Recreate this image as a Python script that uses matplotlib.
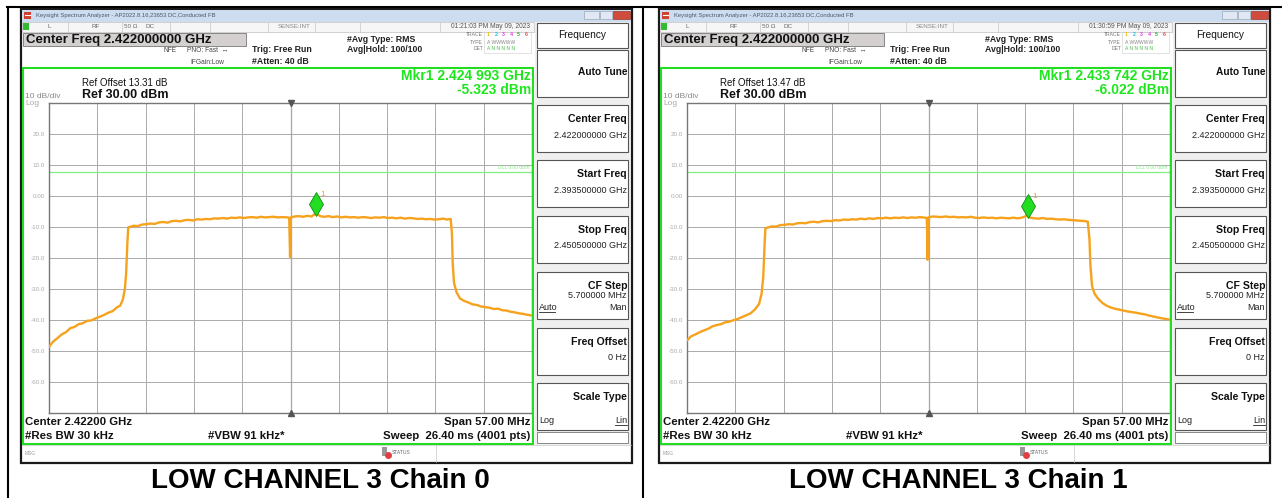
import matplotlib
matplotlib.use("Agg")
import matplotlib.pyplot as plt
from matplotlib.patches import Rectangle
from matplotlib.lines import Line2D
from matplotlib.transforms import ScaledTranslation

# ---------------- data ----------------
start_freq_mhz = 2393.5
stop_freq_mhz = 2450.5
center_freq_mhz = 2422.0
ref_level_dbm = 30.0
bottom_level_dbm = -70.0
display_line_dbm = 8.0

y_grid_levels = [20, 10, 0, -10, -20, -30, -40, -50, -60]
y_tick_labels = ["20.0", "10.0", "0.00", "-10.0", "-20.0", "-30.0", "-40.0", "-50.0", "-60.0"]

chain0_freq_mhz = [
    2393.5, 2394.0, 2394.5, 2395.0, 2395.5, 2396.0, 2396.5, 2397.0, 2397.5, 2398.0,
    2398.5, 2399.0, 2399.5, 2400.0, 2400.5, 2401.0, 2401.5, 2401.9, 2402.2, 2402.45,
    2402.6, 2402.75, 2402.85, 2403.0, 2403.5, 2404.0, 2404.5, 2405.0, 2405.5, 2406.0,
    2406.5, 2407.0, 2407.5, 2408.0, 2408.5, 2409.0, 2409.5, 2410.0, 2410.5, 2411.0,
    2411.5, 2412.0, 2412.5, 2413.0, 2413.5, 2414.0, 2414.5, 2415.0, 2415.5, 2416.0,
    2416.5, 2417.0, 2417.5, 2418.0, 2418.5, 2419.0, 2419.5, 2420.0, 2420.5, 2421.0,
    2421.6, 2421.85, 2421.95, 2422.05, 2422.5, 2423.0, 2423.5, 2424.0, 2424.5, 2424.99,
    2425.5, 2426.0, 2426.5, 2427.0, 2427.5, 2428.0, 2428.5, 2429.0, 2429.5, 2430.0,
    2430.5, 2431.0, 2431.5, 2432.0, 2432.5, 2433.0, 2433.5, 2434.0, 2434.5, 2435.0,
    2435.5, 2436.0, 2436.5, 2437.0, 2437.5, 2438.0, 2438.5, 2439.0, 2439.5, 2440.0,
    2440.5, 2440.9, 2441.05, 2441.15, 2441.3, 2441.6, 2442.0, 2442.5, 2443.0, 2443.5,
    2444.0, 2444.5, 2445.0, 2445.5, 2446.0, 2446.5, 2447.0, 2447.5, 2448.0, 2448.5,
    2449.0, 2449.5, 2450.0, 2450.5]
chain0_level_dbm = [
    -48.6, -46.9, -45.8, -44.6, -43.9, -42.6, -42.2, -41.3, -41.0, -40.2,
    -40.1, -39.4, -38.9, -38.3, -37.6, -37.1, -35.9, -35.3, -33.5, -30.0,
    -25.0, -15.0, -10.0, -9.9, -9.5, -9.6, -9.1, -9.0, -8.8, -8.9,
    -8.4, -8.3, -8.5, -8.0, -7.9, -8.1, -7.7, -7.6, -7.8, -7.4,
    -7.5, -7.3, -7.4, -7.1, -7.2, -7.0, -7.2, -6.9, -7.0, -6.8,
    -7.0, -6.8, -6.7, -6.9, -6.6, -6.8, -6.7, -6.6, -6.8, -6.7,
    -6.8, -6.9, -19.6, -6.8, -6.5, -6.4, -6.6, -6.3, -6.5, -5.4,
    -6.4, -6.6, -6.4, -6.7, -6.5, -6.8, -6.6, -6.8, -6.7, -6.9,
    -6.7, -6.8, -7.0, -6.8, -6.9, -6.7, -7.0, -6.9, -7.1, -6.9,
    -7.2, -7.0, -7.1, -7.3, -7.2, -7.4, -7.3, -7.5, -7.4, -7.2,
    -7.5, -7.3, -12.0, -22.0, -28.0, -31.0, -33.0, -33.8, -34.3, -34.9,
    -35.1, -35.6, -35.8, -36.0, -36.4, -36.3, -36.8, -36.9, -37.3, -37.5,
    -37.8, -38.0, -38.3, -38.5]

chain1_freq_mhz = [
    2393.5, 2394.0, 2394.5, 2395.0, 2395.5, 2396.0, 2396.5, 2397.0, 2397.5, 2398.0,
    2398.5, 2399.0, 2399.5, 2400.0, 2400.5, 2401.0, 2401.5, 2402.0, 2402.3, 2402.5,
    2402.65, 2402.75, 2403.0, 2403.5, 2404.0, 2404.5, 2405.0, 2405.5, 2406.0, 2406.5,
    2407.0, 2407.5, 2408.0, 2408.5, 2409.0, 2409.5, 2410.0, 2410.5, 2411.0, 2411.5,
    2412.0, 2412.5, 2413.0, 2413.5, 2414.0, 2414.5, 2415.0, 2415.5, 2416.0, 2416.5,
    2417.0, 2417.5, 2418.0, 2418.5, 2419.0, 2419.5, 2420.0, 2420.5, 2421.0, 2421.6,
    2421.8, 2421.9, 2422.0, 2422.5, 2423.0, 2423.5, 2424.0, 2424.5, 2425.0, 2425.5,
    2426.0, 2426.5, 2427.0, 2427.5, 2428.0, 2428.5, 2429.0, 2429.5, 2430.0, 2430.5,
    2431.0, 2431.5, 2432.0, 2432.5, 2433.0, 2433.74, 2434.0, 2434.5, 2435.0, 2435.5,
    2436.0, 2436.5, 2437.0, 2437.5, 2438.0, 2438.5, 2439.0, 2439.5, 2440.0, 2440.5,
    2440.8, 2441.0, 2441.1, 2441.3, 2441.6, 2442.0, 2442.5, 2443.0, 2443.5, 2444.0,
    2444.5, 2445.0, 2445.5, 2446.0, 2446.5, 2447.0, 2447.5, 2448.0, 2448.5, 2449.0,
    2449.5, 2450.0, 2450.5]
chain1_level_dbm = [
    -46.5, -45.2, -44.6, -43.9, -43.3, -42.8, -42.0, -41.6, -41.3, -40.7,
    -40.5, -40.0, -39.6, -39.0, -38.4, -37.8, -36.6, -34.8, -31.5, -26.0,
    -16.0, -10.3, -10.1, -9.7, -9.8, -9.3, -9.2, -9.0, -9.1, -8.7,
    -8.6, -8.7, -8.3, -8.2, -8.4, -8.0, -7.9, -8.0, -7.7, -7.8,
    -7.5, -7.6, -7.4, -7.5, -7.2, -7.4, -7.1, -7.3, -7.0, -7.1,
    -6.9, -7.1, -6.9, -7.0, -6.8, -7.0, -6.8, -6.9, -6.7, -6.9,
    -7.0, -20.5, -6.8, -6.5, -6.6, -6.7, -6.5, -6.7, -6.6, -6.8,
    -6.7, -6.8, -6.6, -6.9, -7.0, -6.8, -7.0, -6.9, -7.1, -6.9,
    -7.0, -7.1, -6.9, -7.1, -6.9, -6.1, -6.9, -7.1, -7.2, -7.0,
    -7.3, -7.2, -7.4, -7.5, -7.4, -7.6, -7.7, -7.8, -7.9, -8.0,
    -8.2, -14.0, -22.0, -29.0, -31.5, -33.0, -34.4, -35.3, -35.9, -36.3,
    -36.6, -36.9, -37.2, -37.4, -37.6, -37.9, -38.1, -38.5, -38.8, -39.1,
    -39.4, -39.6, -39.9]

marker_freq_mhz = [2424.993, 2433.742]
marker_level_dbm = [-5.323, -6.022]
marker_labels = ["Mkr1 2.424 993 GHz", "Mkr1 2.433 742 GHz"]
marker_value_labels = ["-5.323 dBm", "-6.022 dBm"]
ref_offsets = ["Ref Offset 13.31 dB", "Ref Offset 13.47 dB"]
timestamps = ["01:21:03 PM May 09, 2023", "01:30:59 PM May 09, 2023"]
captions = ["LOW CHANNEL 3 Chain 0", "LOW CHANNEL 3 Chain 1"]

menu_title = "Frequency"
menu_items = [("Center Freq", "2.422000000 GHz"), ("Start Freq", "2.393500000 GHz"),
              ("Stop Freq", "2.450500000 GHz"), ("CF Step", "5.700000 MHz"),
              ("Freq Offset", "0 Hz"), ("Scale Type", "")]

# ---------------- drawing helpers (pixel layout) ----------------
W, H = 1282, 498
FONT = ["Liberation Sans", "DejaVu Sans"]
fig = plt.figure(figsize=(W / 100, H / 100), dpi=100)
fig.patch.set_facecolor("white")


def fx(x):
    return x / W


def fy(y):
    return 1 - y / H


def rect(x0, y0, x1, y1, fc="none", ec="none", lw=0.0, z=0.5):
    fig.add_artist(Rectangle((fx(x0), fy(y1)), (x1 - x0) / W, (y1 - y0) / H,
                             transform=fig.transFigure, facecolor=fc, edgecolor=ec,
                             linewidth=lw, zorder=z))


def line(x0, y0, x1, y1, color="black", lw=0.72, z=1):
    fig.add_artist(Line2D([fx(x0), fx(x1)], [fy(y0), fy(y1)], transform=fig.transFigure,
                          color=color, linewidth=lw, zorder=z))


def txt(x, y, s, size, ha="left", va="center", weight="normal", color="black", z=3):
    fig.text(fx(x), fy(y), s, fontsize=size, ha=ha, va=va, fontweight=weight,
             color=color, family=FONT, zorder=z)


def panel(ox, idx, freqs, levels):
    X = lambda x: x + ox
    # screenshot frame
    rect(X(21), 9, X(632), 463, fc="white", ec="#1a1a1a", lw=1.6, z=0.2)
    # title bar
    rect(X(22), 10, X(631), 22, fc="#cddcee", z=0.3)
    rect(X(24), 12, X(31), 19, fc="#d04030", z=0.4)
    line(X(25), 15.5, X(30), 15.5, color="white", lw=0.8, z=0.5)
    txt(X(36), 16, "Keysight Spectrum Analyzer - AP2022.8.16,23653 DC,Conducted FB", 4.2, color="#4a5a6a")
    rect(X(584), 11, X(599), 19, fc="#dfe8f3", ec="#9aaabb", lw=0.5, z=0.4)
    rect(X(600), 11, X(612), 19, fc="#dfe8f3", ec="#9aaabb", lw=0.5, z=0.4)
    rect(X(613), 11, X(630), 19, fc="#cf4b3b", ec="#9a3a2a", lw=0.5, z=0.4)
    # status row
    rect(X(22), 22, X(534), 32, fc="#f6f6f6", ec="#c0c0c0", lw=0.5, z=0.3)
    rect(X(23), 23, X(29), 30, fc="#33bb33", z=0.4)
    for sx in [68, 122, 170, 210, 268, 315, 360, 440]:
        line(X(sx), 22, X(sx), 32, color="#c8c8c8", lw=0.5)
    txt(X(48), 27, "L", 4.5, color="#666")
    txt(X(92), 27, "RF", 4.5, color="#666")
    txt(X(124), 27, "50 Ω", 4.5, color="#666")
    txt(X(145), 27, "DC", 4.5, color="#666")
    txt(X(278), 27, "SENSE:INT", 4.5, color="#888")
    txt(X(530), 27, timestamps[idx], 4.8, ha="right", color="#555")
    # centre freq box
    rect(X(23), 33, X(246), 46, fc="#d5d0d0", ec="#777", lw=0.6, z=0.4)
    txt(X(26), 40.5, "Center Freq 2.422000000 GHz", 9.5, weight="bold", color="#111")
    txt(X(163), 51, "NFE", 4.8, color="#444")
    txt(X(187), 51, "PNO: Fast  ↔", 4.8, color="#444")
    txt(X(190), 62, "IFGain:Low", 4.8, color="#444")
    txt(X(252), 50, "Trig: Free Run", 6.3, weight="bold", color="#222")
    txt(X(252), 61, "#Atten: 40 dB", 6.3, weight="bold", color="#222")
    txt(X(347), 40, "#Avg Type: RMS", 6.3, weight="bold", color="#222")
    txt(X(347), 50, "Avg|Hold: 100/100", 6.3, weight="bold", color="#222")
    # trace info block
    txt(X(483), 35, "TRACE", 3.6, ha="right", color="#777")
    txt(X(483), 42, "TYPE", 3.6, ha="right", color="#777")
    txt(X(483), 49, "DET", 3.6, ha="right", color="#777")
    rect(X(484), 32, X(531), 53, ec="#cccccc", lw=0.4, z=0.4)
    for k, c in enumerate(["#e8c000", "#20c0e0", "#e040e0", "#e040e0", "#30b030", "#e05050"]):
        txt(X(487 + k * 7.5), 35, str(k + 1), 3.8, color=c, weight="bold")
    txt(X(487), 42, "A WWWWW", 3.6, color="#888")
    txt(X(487), 49, "A N N N N N", 3.6, color="#55bb55")
    # menu column
    rect(X(535), 22, X(630), 445, fc="#efefef", z=0.3)
    rect(X(537), 23, X(628), 48, fc="white", ec="#555", lw=0.8, z=0.4)
    txt(X(582.5), 35.5, menu_title, 7.3, ha="center", color="#111")
    rect(X(537), 50, X(628), 97, fc="white", ec="#555", lw=0.8, z=0.4)
    txt(X(627), 72, "Auto Tune", 7.3, ha="right", weight="bold", color="#111")
    tops = [105, 160, 216, 272, 328, 383]
    for (ttl, val), t in zip(menu_items, tops):
        rect(X(537), t, X(628), t + 47, fc="white", ec="#555", lw=0.8, z=0.4)
        txt(X(627), t + 14, ttl, 7.6, ha="right", weight="bold", color="#111")
        if ttl == "CF Step":
            txt(X(627), t + 24, val, 6.5, ha="right", color="#222")
            txt(X(539), t + 35, "Auto", 6.5, color="#222")
            line(X(539), t + 40, X(555), t + 40, color="#222", lw=0.6, z=3)
            txt(X(627), t + 35, "Man", 6.5, ha="right", color="#222")
        elif ttl == "Scale Type":
            txt(X(539), t + 37, "Log", 6.5, color="#222")
            txt(X(627), t + 37, "Lin", 6.5, ha="right", color="#222")
            line(X(615), t + 42, X(627), t + 42, color="#222", lw=0.6, z=3)
        else:
            txt(X(627), t + 30, val, 6.5, ha="right", color="#222")
    rect(X(537), 432, X(628), 443, fc="white", ec="#777", lw=0.6, z=0.4)
    # message row
    line(X(22), 445, X(631), 445, color="#c8c8c8", lw=0.5)
    line(X(436), 445, X(436), 462, color="#c8c8c8", lw=0.5)
    txt(X(25), 453, "MSG", 3.5, color="#999")
    rect(X(382), 447, X(387), 456, fc="#999", z=0.4)
    fig.add_artist(Line2D([fx(X(388))], [fy(455)], marker="o", markersize=4,
                          color="#e04040", transform=fig.transFigure, zorder=2))
    txt(X(392), 452, "STATUS", 3.6, color="#666")
    # green measurement frame
    rect(X(23), 68, X(533), 444, ec="#22dd22", lw=1.5, z=2.5)
    txt(X(82), 83.5, ref_offsets[idx], 7, color="#111")
    txt(X(82), 95, "Ref 30.00 dBm", 9, weight="bold", color="#111")
    txt(X(25), 96, "10 dB/div", 6, color="#888")
    txt(X(25), 103.5, "Log", 6, color="#aaa")
    txt(X(531), 76.5, marker_labels[idx], 10, ha="right", weight="bold", color="#1ee61e")
    txt(X(531), 90, marker_value_labels[idx], 10, ha="right", weight="bold", color="#1ee61e")
    txt(X(25), 422, "Center 2.42200 GHz", 8.2, weight="bold", color="#111")
    txt(X(530), 422, "Span 57.00 MHz", 8.2, ha="right", weight="bold", color="#111")
    txt(X(25), 436, "#Res BW 30 kHz", 8.2, weight="bold", color="#111")
    txt(X(208), 436, "#VBW 91 kHz*", 8.2, weight="bold", color="#111")
    txt(X(530), 436, "Sweep  26.40 ms (4001 pts)", 8.2, ha="right", weight="bold", color="#111")

    # ---- trace axes ----
    px0, py0, px1, py1 = X(49), 103.5, X(532), 413
    ax = fig.add_axes([fx(px0), fy(py1), (px1 - px0) / W, (py1 - py0) / H], zorder=2)
    ax.set_facecolor("white")
    ax.set_xlim(start_freq_mhz, stop_freq_mhz)
    ax.set_ylim(bottom_level_dbm, ref_level_dbm)
    div = (stop_freq_mhz - start_freq_mhz) / 10
    ax.set_xticks([start_freq_mhz + k * div for k in range(1, 10)])
    ax.set_xticklabels([])
    ax.set_yticks(y_grid_levels)
    ax.set_yticklabels(y_tick_labels)
    ax.tick_params(axis="both", length=0)
    ax.tick_params(axis="y", labelsize=4.5, labelcolor="#aaaaaa", pad=3)
    for lab in ax.get_yticklabels():
        lab.set_family(FONT)
    ax.grid(True, color="#aaaaaa", linewidth=0.7)
    ax.axvline(center_freq_mhz, color="#8a8a8a", linewidth=0.9, zorder=1)
    for sp in ax.spines.values():
        sp.set_color("#777777")
        sp.set_linewidth(1.0)
    ax.axhline(display_line_dbm, color="#7ff07f", linewidth=0.9, zorder=2)
    ax.text(stop_freq_mhz - 0.3, display_line_dbm + 0.6, "DL1 8.00 dBm", fontsize=3.5,
            color="#8fe88f", ha="right", va="bottom", family=FONT)
    ax.plot(freqs, levels, color="#f6a21c", linewidth=1.7, zorder=3)
    ax.plot([center_freq_mhz], [ref_level_dbm], marker="v", markersize=4, color="#555",
            clip_on=False, zorder=4)
    ax.plot([center_freq_mhz], [bottom_level_dbm], marker="^", markersize=4, color="#555",
            clip_on=False, zorder=4)
    up = ax.transData + ScaledTranslation(0, 0.085, fig.dpi_scale_trans)
    ax.plot([marker_freq_mhz[idx]], [marker_level_dbm[idx]], marker="d", markersize=12,
            markerfacecolor="#22dd22", markeredgecolor="#118811", markeredgewidth=0.6,
            transform=up, zorder=5, linestyle="none")
    up2 = ax.transData + ScaledTranslation(0.07, 0.18, fig.dpi_scale_trans)
    ax.text(marker_freq_mhz[idx], marker_level_dbm[idx], "1", fontsize=6, color="#f0a020",
            transform=up2, ha="center", va="center", family=FONT, zorder=5)

    # caption
    txt(X(320), 481, captions[idx], 20, ha="center", weight="bold", color="black")


# table lines
line(7, 7.5, 1282, 7.5, color="black", lw=1.5, z=1)
line(7.5, 7, 7.5, 498, color="black", lw=1.5, z=1)
line(642.5, 7, 642.5, 498, color="black", lw=1.5, z=1)

panel(0, 0, chain0_freq_mhz, chain0_level_dbm)
panel(638, 1, chain1_freq_mhz, chain1_level_dbm)

fig.savefig("out.png", dpi=100, facecolor="white")
